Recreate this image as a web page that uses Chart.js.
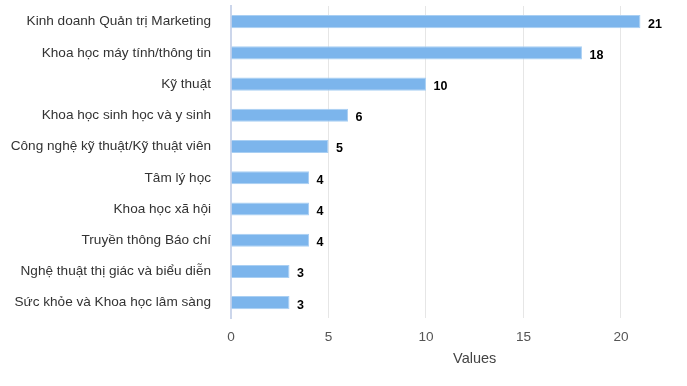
<!doctype html>
<html>

<head>
    <meta charset="utf-8">
    <title>Chart</title>
    <script src="https://cdn.jsdelivr.net/npm/chart.js"></script>
    <style>
        body { margin: 0; background: #fff; overflow: hidden; }
        /* o gráfico original é mais largo e aparece cortado à direita */
        #wrap { width: 737px; height: 386px; }
    </style>
</head>

<body>
    <div id="wrap">
        <canvas id="grafico"></canvas>
    </div>

    <script>
        var categorias = [
            'Kinh doanh Quản trị Marketing',
            'Khoa học máy tính/thông tin',
            'Kỹ thuật',
            'Khoa học sinh học và y sinh',
            'Công nghệ kỹ thuật/Kỹ thuật viên',
            'Tâm lý học',
            'Khoa học xã hội',
            'Truyền thông Báo chí',
            'Nghệ thuật thị giác và biểu diễn',
            'Sức khỏe và Khoa học lâm sàng'
        ];
        var valores = [21, 18, 10, 6, 5, 4, 4, 4, 3, 3];
        var maxX = 25;
        var passoX = 5;

        var fonte = '"Liberation Sans", Arial, sans-serif';

        // escreve o valor no fim de cada barra
        var rotulos = {
            id: 'rotulos',
            afterDatasetsDraw(chart) {
                var ctx = chart.ctx;
                var meta = chart.getDatasetMeta(0);
                ctx.save();
                ctx.font = 'bold 12.5px ' + fonte;
                ctx.fillStyle = '#000';
                ctx.textBaseline = 'middle';
                meta.data.forEach(function (bar, i) {
                    ctx.fillText(String(valores[i]), bar.x + 7.5, bar.y + 2.5);
                });
                ctx.restore();
            }
        };

        var grafico = new Chart(document.getElementById('grafico').getContext('2d'), {
            type: 'bar',
            data: {
                labels: categorias,
                datasets: [{
                    label: 'Values',
                    data: valores,
                    backgroundColor: '#7cb5ec',
                    borderColor: '#a9cff3',
                    borderWidth: 1,
                    categoryPercentage: 1,
                    barPercentage: 0.42
                }]
            },
            options: {
                indexAxis: 'y',
                responsive: true,
                maintainAspectRatio: false,
                animation: false,
                layout: { padding: { top: 6, right: 12, left: 0, bottom: 18 } },
                plugins: {
                    legend: { display: false },
                    tooltip: { enabled: false }
                },
                scales: {
                    x: {
                        min: 0,
                        max: maxX,
                        grid: { color: '#e6e6e6', drawTicks: false },
                        border: { display: false },
                        ticks: {
                            stepSize: passoX,
                            color: '#555',
                            padding: 11,
                            font: { family: fonte, size: 13.6 }
                        },
                        title: {
                            display: true,
                            text: 'Values',
                            color: '#444',
                            padding: { top: -6, bottom: 0 },
                            font: { family: fonte, size: 14.5 }
                        }
                    },
                    y: {
                        grid: { display: false, drawTicks: false },
                        border: { display: true, color: '#ccd6eb', width: 2 },
                        ticks: {
                            color: '#333',
                            padding: 20,
                            font: { family: fonte, size: 13.6 }
                        },
                        afterFit: function (s) {
                            s.width = 231;
                            s.paddingTop = 0;
                            s.paddingBottom = 0;
                        }
                    }
                }
            },
            plugins: [rotulos]
        });
    </script>
</body>

</html>
